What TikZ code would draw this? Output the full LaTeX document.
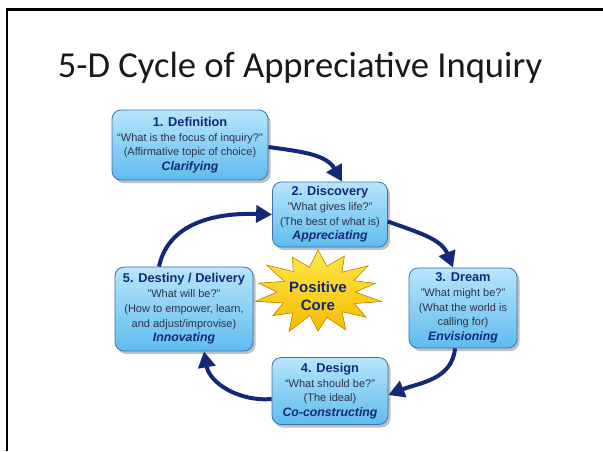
\documentclass[tikz,border=0pt]{standalone}
\usepackage{fontspec}
\setmainfont{Liberation Sans}
\newfontfamily\titlefont{Carlito}
\usetikzlibrary{arrows.meta,shadows,calc}

\definecolor{navy}{HTML}{14287A}
\definecolor{boxtop}{HTML}{B8E5FB}
\definecolor{boxbot}{HTML}{5EBCEE}
\definecolor{boxedge}{HTML}{3A70B4}
\definecolor{bodytext}{HTML}{2E3347}
\definecolor{startop}{HTML}{FFE84A}
\definecolor{starbot}{HTML}{F4BC00}
\definecolor{staredge}{HTML}{C98E00}

\newcommand\stagehead[1]{{\fontsize{12.8}{14.7}\selectfont\bfseries\color{navy}#1}}
\newcommand\stagemode[1]{{\fontsize{12.3}{14.7}\selectfont\bfseries\itshape\color{navy}#1}}

\tikzset{
  stagebox/.style={rectangle, rounded corners=9pt, draw=boxedge, line width=0.8pt,
    top color=boxtop, bottom color=boxbot,
    drop shadow={shadow xshift=2.5pt, shadow yshift=-3pt, opacity=0.35, fill=black!70},
    align=center, inner sep=0pt, text=bodytext,
    font=\fontsize{11}{14.7}\selectfont},
  flow/.style={draw=navy, line width=4pt, -{Triangle[length=16pt,width=17pt]}},
  frameline/.style={line width=2.5pt, black},
}

\begin{document}
\begin{tikzpicture}[x=1pt,y=1pt]
  \useasboundingbox (0,0) rectangle (603,-451);
  \fill[white] (0,0) rectangle (603,-451);

  % slide frame
  \draw[frameline] (7,-451) -- (7,-9.5) -- (603,-9.5);

  % heading
  \node[font=\titlefont\fontsize{36.6}{40}\selectfont, text=black!90] (title) at (300,-68)
    {5-D Cycle of Appreciative Inquiry};

  % central star: alternating outer/inner points with uneven spike lengths
  \coordinate (sc) at (318,-292);
  \fill[top color=startop, bottom color=starbot, draw=staredge, line width=0.6pt]
    \foreach \k/\f [count=\n] in {0/1.00,1/0.60,2/0.92,3/0.62,4/1.03,5/0.58,6/0.95,7/0.64,
                                   8/1.00,9/0.60,10/0.90,11/0.63,12/1.04,13/0.57,14/0.93,
                                   15/0.62,16/1.00,17/0.60,18/0.96,19/0.63,20/1.02,21/0.58,
                                   22/0.92,23/0.62,24/1.00,25/0.60,26/0.95,27/0.63} {
      \ifnum\n=1 ($(sc)+({90+\k*360/28}:{64*\f} and {42*\f})$)
      \else -- ($(sc)+({90+\k*360/28}:{64*\f} and {42*\f})$)\fi
    } -- cycle;
  \node[font=\fontsize{15}{18}\selectfont\bfseries, text=navy, align=center] (core)
    at (318,-296) {Positive\\Core};

  % the five stages
  \node[stagebox, minimum width=156pt, minimum height=70pt] (d1) at (190,-145)
    {\stagehead{1. Definition}\\
     ``What is the focus of inquiry?''\\
     (Affirmative topic of choice)\\
     \stagemode{Clarifying}};
  \node[stagebox, minimum width=115pt, minimum height=65pt] (d2) at (330,-214.5)
    {\stagehead{2. Discovery}\\
     "What gives life?"\\
     (The best of what is)\\
     \stagemode{Appreciating}};
  \node[stagebox, minimum width=108pt, minimum height=80pt] (d3) at (463,-308)
    {\stagehead{3. Dream}\\
     "What might be?"\\
     (What the world is\\
     calling for)\\
     \stagemode{Envisioning}};
  \node[stagebox, minimum width=116pt, minimum height=67pt] (d4) at (330,-391)
    {\stagehead{4. Design}\\
     ``What should be?''\\
     (The ideal)\\
     \stagemode{Co-constructing}};
  \node[stagebox, minimum width=138pt, minimum height=84pt] (d5) at (184,-309)
    {\stagehead{5. Destiny / Delivery}\\
     "What will be?"\\
     (How to empower, learn,\\
     and adjust/improvise)\\
     \stagemode{Innovating}};

  % cycle arrows
  \draw[flow] ([yshift=-2pt]d1.east) to[out=-8, in=120] ([xshift=12pt]d2.north);
  \draw[flow] ([yshift=-7pt]d2.east) to[out=-20, in=112] ([xshift=-10pt]d3.north);
  \draw[flow] ([xshift=-8pt]d3.south) to[out=-95, in=22] ([yshift=-4pt]d4.east);
  \draw[flow] ([yshift=-8pt]d4.west) to[out=185, in=-80] ([xshift=20pt]d5.south);
  \draw[flow] ([xshift=-25pt]d5.north) to[out=78, in=178] (d2.west);
\end{tikzpicture}
\end{document}
